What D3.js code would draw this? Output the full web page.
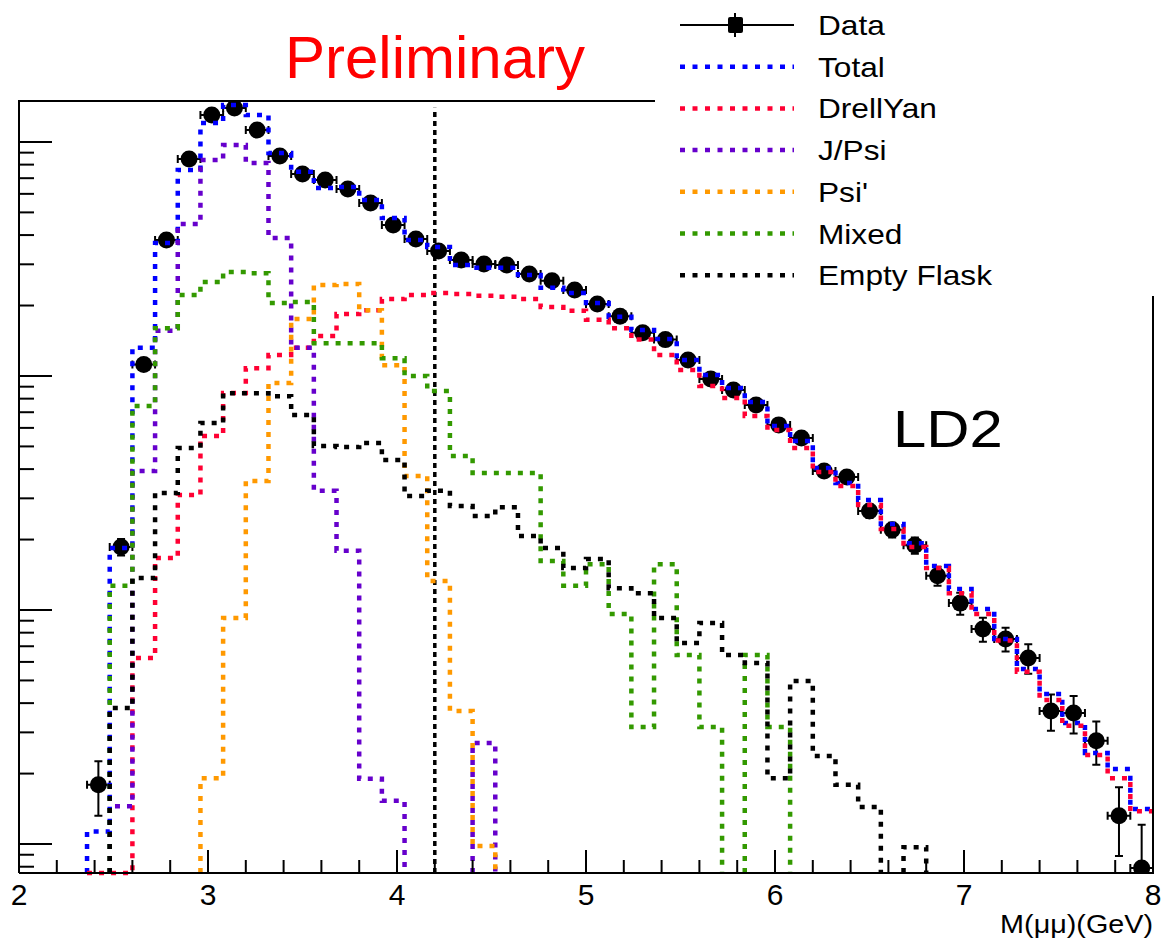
<!DOCTYPE html>
<meta charset="utf-8">
<style>
    body { margin: 0; background: #fff; }
    svg { display: block; }
    text { font-family: "Liberation Sans", Arial, sans-serif; }
</style>
<script src="https://cdn.jsdelivr.net/npm/d3@7/dist/d3.min.js"></script>
<body>
<svg></svg>
</body>
<script>

    // binning: 50 bins of 0.12 GeV from 2 to 8
    var binLow = 2.0;
    var binWidth = 0.12;

    var total = [0, 0, 0, 1.13, 18.4, 132, 370, 759, 1205, 1439, 1304, 897, 745, 636, 642, 565, 473, 381, 356, 298,
        290, 290, 270, 238, 226, 205, 179, 157, 144, 117, 101, 88.8, 77.4, 61.1, 52.7, 40.4, 34.9, 29.5, 23.3, 19.3,
        15.4, 12.3, 10.1, 7.52, 5.59, 4.38, 3.29, 2.45, 2.09, 1.41];
    var drellYan = [0, 0, 0, 0.6, 0.6, 6.24, 16.7, 31.0, 55.4, 84.6, 108, 123, 132, 148, 184, 191, 213, 222, 226, 224,
        220, 218, 213, 197, 190, 174, 160, 143, 123, 106, 90.6, 80.5, 67.5, 58.8, 49.2, 38.9, 33.9, 28.1, 22.2, 18.6,
        15.1, 11.8, 9.61, 7.4, 5.45, 4.13, 3.2, 2.4, 1.91, 1.38];
    var jpsi = [0, 0, 0, 0, 1.45, 39.3, 156, 446, 838, 971, 813, 389, 132, 32.3, 17.9, 1.90, 1.53, 0, 0, 0,
        2.70, 0, 0, 0, 0, 0, 0, 0, 0, 0, 0, 0, 0, 0, 0, 0, 0, 0, 0, 0,
        0, 0, 0, 0, 0, 0, 0, 0, 0, 0];
    var psiPrime = [0, 0, 0, 0, 0, 0, 0, 0, 1.91, 9.25, 35.6, 93.3, 175, 245, 247, 191, 111, 37.4, 13.3, 3.70,
        0.98, 0, 0, 0, 0, 0, 0, 0, 0, 0, 0, 0, 0, 0, 0, 0, 0, 0, 0, 0,
        0, 0, 0, 0, 0, 0, 0, 0, 0, 0];
    var mixed = [0, 0, 0, 0, 12.7, 74.5, 160, 222, 252, 278, 275, 205, 207, 138, 138, 138, 119, 100, 86.3, 45.5,
        38.5, 38.5, 38.5, 16.2, 12.7, 15.7, 9.61, 3.16, 15.7, 6.42, 3.16, 0, 6.42, 3.16, 0, 0, 0, 0, 0, 0,
        0, 0, 0, 0, 0, 0, 0, 0, 0, 0];
    var emptyFlask = [0, 0, 0, 0, 3.81, 13.7, 31.6, 49.2, 63.0, 84.4, 84.4, 82, 68.1, 50.2, 49.7, 51.7, 43.8, 30.7, 32.3, 27.8,
        25.2, 27.5, 20.7, 18.4, 15.1, 16.5, 12.4, 11.8, 9.25, 7.23, 8.80, 6.42, 5.94, 1.91, 4.97, 2.38, 1.79, 1.44, 0, 0.97,
        0, 0, 0, 0, 0, 0, 0, 0, 0, 0];
    var data = [0, 0, 0, 1.79, 18.6, 112, 381, 846, 1304, 1397, 1125, 871, 730, 688, 630, 548, 442, 385, 342, 313,
        301, 298, 273, 255, 233, 203, 180, 153, 143, 117, 97.1, 87.1, 75.2, 61.8, 54.3, 39.3, 37.0, 26.5, 22.0, 18.9,
        14.0, 10.7, 8.29, 7.52, 6.24, 3.70, 3.63, 2.76, 1.32, 0.79];
    var dataErr = [0, 0, 0, 0.47, 1.5, 3.7, 6.8, 10.1, 12.5, 12.9, 11.6, 10.2, 9.4, 9.1, 8.7, 8.1, 7.3, 6.8, 6.4, 6.1,
        6.0, 6.0, 5.7, 5.5, 5.3, 4.9, 4.6, 4.3, 4.1, 3.7, 3.4, 3.2, 3.0, 2.7, 2.6, 2.2, 2.1, 1.8, 1.6, 1.5,
        1.3, 1.15, 0.97, 0.88, 0.9, 0.65, 0.66, 0.58, 0.43, 0.42];

    var legendLabels = ["Data", "Total", "DrellYan", "J/Psi", "Psi'", "Mixed", "Empty Flask"];
    var xTickLabels = [2, 3, 4, 5, 6, 7, 8];
    var cutMass = 4.2;
    var cutTop = 1400;

    var series = [
        {name: "Total", values: total, color: "#0000ff"},
        {name: "DrellYan", values: drellYan, color: "#ff0033"},
        {name: "J/Psi", values: jpsi, color: "#6600cc"},
        {name: "Psi'", values: psiPrime, color: "#ff9900"},
        {name: "Mixed", values: mixed, color: "#339900"},
        {name: "Empty Flask", values: emptyFlask, color: "#000000"}
    ];

    var W = 1161, H = 945;
    var pL = 19, pR = 1153, pT = 101, pB = 873;

    var svg = d3.select('svg').attr('width', W).attr('height', H);

    var x = d3.scaleLinear().domain([2, 8]).range([pL, pR]);
    var y = d3.scaleLog().domain([0.752, 1496]).range([pB, pT]).clamp(true);

    svg.append('clipPath').attr('id', 'frame')
        .append('rect')
        .attr('x', pL).attr('y', pT)
        .attr('width', pR - pL).attr('height', pB - pT);

    // cut line
    svg.append('line')
        .attr('x1', x(cutMass)).attr('x2', x(cutMass))
        .attr('y1', pB).attr('y2', y(cutTop))
        .style('stroke', '#000')
        .style('stroke-width', 3.5)
        .style('stroke-dasharray', '5,4');

    // data points with error bars
    var pts = data.map(function (v, i) {
        return {x: binLow + (i + 0.5) * binWidth, v: v, e: dataErr[i]};
    }).filter(function (d) { return d.v > 0; });

    var dg = svg.append('g').attr('clip-path', 'url(#frame)')
        .style('stroke', '#000').style('stroke-width', 2);
    var cap = 4;
    pts.forEach(function (d) {
        var cx = x(d.x), cy = y(d.v);
        var y1 = y(d.v + d.e), y2 = y(Math.max(d.v - d.e, 0.001));
        var xa = x(d.x - binWidth / 2), xb = x(d.x + binWidth / 2);
        dg.append('path')
            .attr('d', 'M' + cx + ',' + y1 + 'V' + y2 +
                'M' + (cx - cap) + ',' + y1 + 'H' + (cx + cap) +
                'M' + (cx - cap) + ',' + y2 + 'H' + (cx + cap) +
                'M' + xa + ',' + cy + 'H' + xb +
                'M' + xa + ',' + (cy - cap) + 'V' + (cy + cap) +
                'M' + xb + ',' + (cy - cap) + 'V' + (cy + cap))
            .style('fill', 'none');
        dg.append('circle')
            .attr('cx', cx).attr('cy', cy).attr('r', 8.5)
            .style('fill', '#000').style('stroke', 'none');
    });

    // histograms
    function stepPath(vals) {
        var d = '', open = false;
        vals.forEach(function (v, i) {
            var x0 = x(binLow + i * binWidth), x1 = x(binLow + (i + 1) * binWidth);
            if (v > 0) {
                if (!open) { d += 'M' + x0 + ',' + pB; open = true; }
                d += 'V' + y(v) + 'H' + x1;
            } else if (open) {
                d += 'V' + pB;
                open = false;
            }
        });
        return d;
    }

    svg.append('g').selectAll('path')
        .data(series)
        .enter().append('path')
        .attr('d', function (s) { return stepPath(s.values); })
        .style('fill', 'none')
        .style('stroke', function (s) { return s.color; })
        .style('stroke-width', 4.5)
        .style('stroke-dasharray', '5,7');

    // frame
    var frame = svg.append('g').style('stroke', '#000').style('stroke-width', 2).style('fill', 'none');
    frame.append('path').attr('d', 'M' + pL + ',' + pB + 'V' + pT + 'H' + pR + 'V' + pB + 'H' + pL);

    // x ticks
    var xMinor = d3.range(0, 31).map(function (k) { return 2 + k * 0.2; });
    frame.selectAll('.xt').data(xMinor).enter().append('line')
        .attr('x1', function (d) { return x(d); }).attr('x2', function (d) { return x(d); })
        .attr('y1', pB)
        .attr('y2', function (d) { return Math.abs(d - Math.round(d)) < 1e-6 ? pB - 23 : pB - 13; });

    // y ticks
    var yTicks = [];
    [-1, 0, 1, 2, 3].forEach(function (p) {
        for (var k = 1; k < 10; k++) {
            var v = k * Math.pow(10, p);
            if (v >= 0.752 && v <= 1496) yTicks.push({v: v, major: k === 1});
        }
    });
    frame.selectAll('.yt').data(yTicks).enter().append('line')
        .attr('x1', pL)
        .attr('x2', function (d) { return d.major ? pL + 33 : pL + 15; })
        .attr('y1', function (d) { return y(d.v); })
        .attr('y2', function (d) { return y(d.v); });

    svg.selectAll('.xl').data(xTickLabels).enter().append('text')
        .attr('x', function (d) { return x(d); })
        .attr('y', 905)
        .attr('text-anchor', 'middle')
        .style('font-size', '30px')
        .text(function (d) { return d; });

    svg.append('text')
        .attr('transform', 'translate(' + pR + ',933) scale(1.15,1)')
        .attr('text-anchor', 'end')
        .style('font-size', '25px')
        .text('M(\u03bc\u03bc)(GeV)');

    // legend box
    svg.append('rect')
        .attr('x', 655).attr('y', 0).attr('width', W - 655).attr('height', 296)
        .style('fill', '#fff');

    var lg = svg.append('g');
    legendLabels.forEach(function (name, i) {
        var ly = 25 + i * 41.7;
        if (i === 0) {
            lg.append('path').attr('d', 'M680,' + ly + 'H794M735,' + (ly - 12) + 'V' + (ly + 12))
                .style('stroke', '#000').style('stroke-width', 2);
            lg.append('rect').attr('x', 728).attr('y', ly - 8).attr('width', 15).attr('height', 16).attr('rx', 2)
                .style('fill', '#000');
        } else {
            lg.append('line').attr('x1', 680).attr('x2', 794).attr('y1', ly).attr('y2', ly)
                .style('stroke', series[i - 1].color)
                .style('stroke-width', 4.5)
                .style('stroke-dasharray', '5,7.5');
        }
        lg.append('text')
            .attr('transform', 'translate(818,' + (ly + 10) + ') scale(1.13,1)')
            .style('font-size', '28px')
            .text(name);
    });

    svg.append('text')
        .attr('x', 285).attr('y', 78)
        .style('font-size', '60px')
        .style('fill', '#ff0000')
        .text('Preliminary');

    svg.append('text')
        .attr('transform', 'translate(893,447) scale(1.15,1)')
        .style('font-size', '52px')
        .text('LD2');

</script>
</html>
